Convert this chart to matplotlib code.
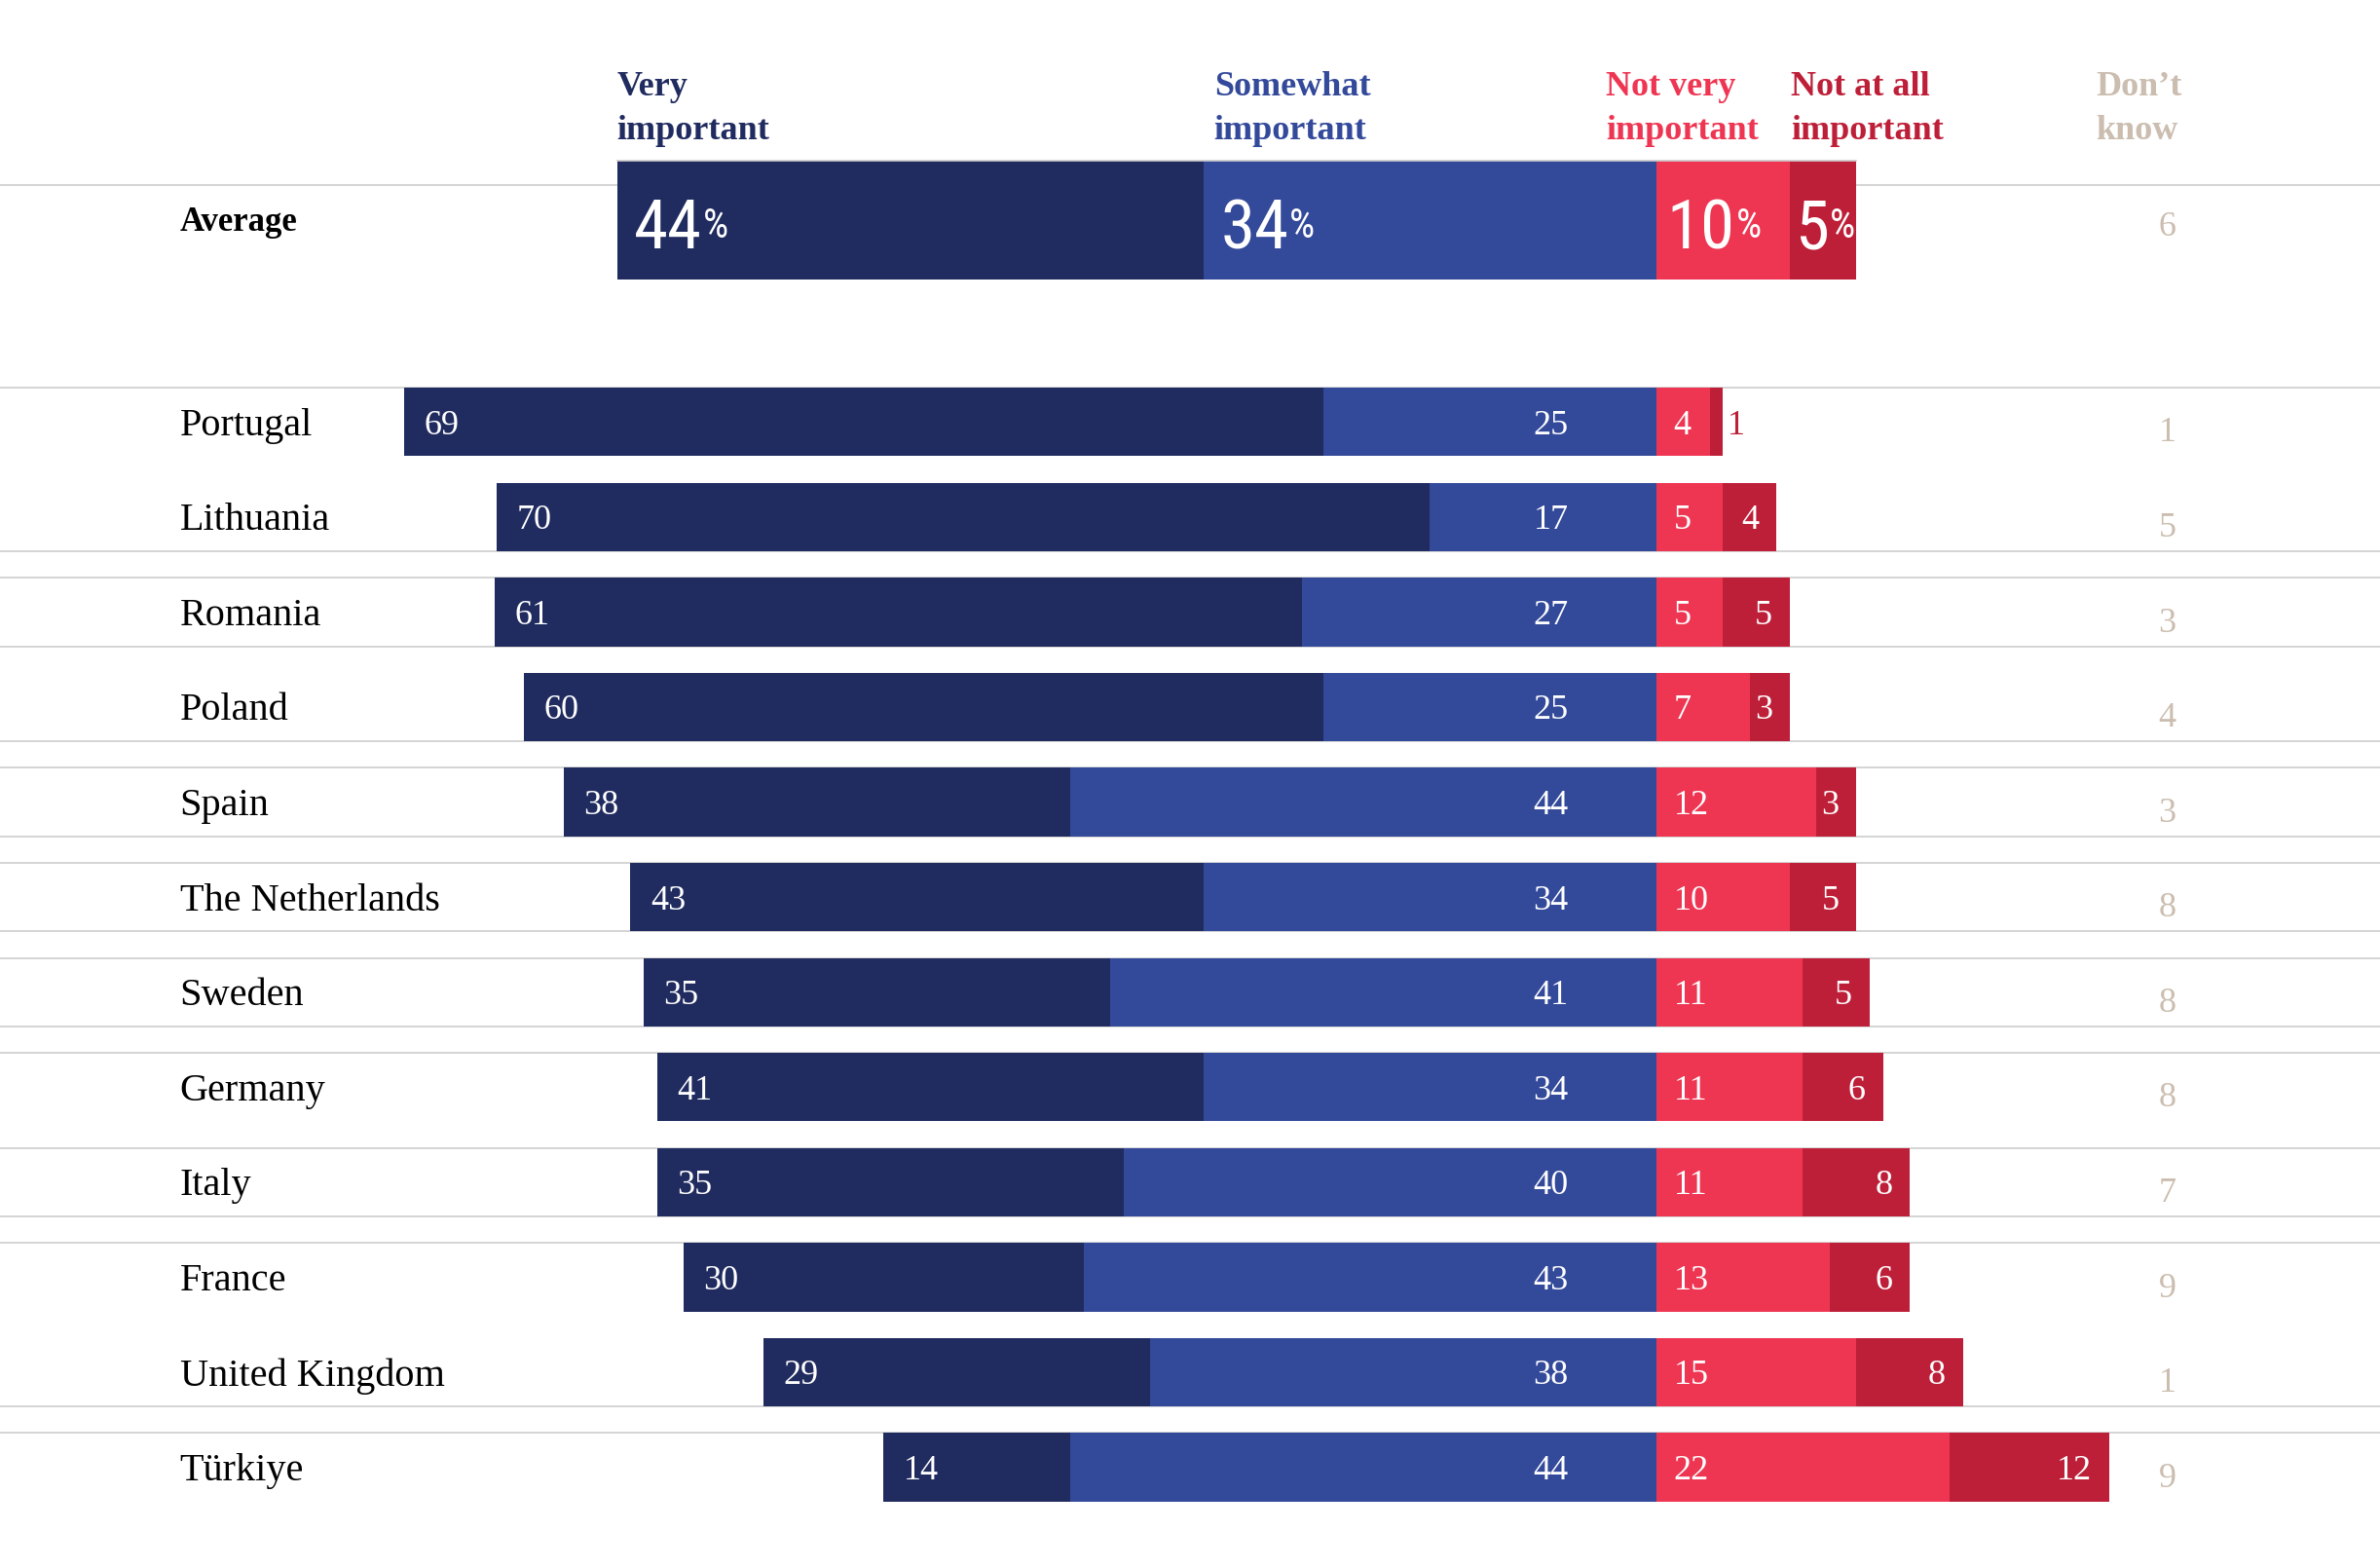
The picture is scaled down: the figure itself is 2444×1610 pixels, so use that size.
import numpy as np
import matplotlib.pyplot as plt

# Data
countries = ["Portugal", "Lithuania", "Romania", "Poland", "Spain", "The Netherlands",
             "Sweden", "Germany", "Italy", "France", "United Kingdom", "Türkiye"]
very = [69, 70, 60.55, 60, 38, 43, 35, 41, 35, 30, 29, 14]
somewhat = [25, 17, 26.6, 25, 44, 34, 41, 34, 40, 43, 38, 44]
not_very = [4, 5, 5, 7, 12, 10, 11, 11, 11, 13, 15, 22]
not_at_all = [1, 4, 5, 3, 3, 5, 5, 6, 8, 6, 8, 12]
dont_know = [1, 5, 3, 4, 3, 8, 8, 8, 7, 9, 1, 9]

avg_label = "Average"
avg_values = [44, 34, 10, 5]
avg_dont_know = 6

headers = ["Very\nimportant", "Somewhat\nimportant", "Not very\nimportant",
           "Not at all\nimportant", "Don’t\nknow"]

# Style
NAVY = "#202b5f"
BLUE = "#33499a"
PINK = "#ee3653"
RED = "#be1f38"
BEIGE = "#cbbdaf"
LINE = "#cdcdcd"
SERIF = "Liberation Serif"
NARROW = ["Roboto Condensed", "Liberation Sans Narrow", "Roboto"]

BAR_H = 0.72
AVG_Y = -2.125
AVG_H = 1.246
LABEL_X = -110.8
DK_X = 39.0
DY = 0.04  # text baseline nudge

# row separator lines: (row, -1 top edge / +1 bottom edge)
row_lines = [(0, -1), (1, 1), (2, -1), (2, 1), (3, 1), (4, -1), (4, 1), (5, -1), (5, 1),
             (6, -1), (6, 1), (7, -1), (8, -1), (8, 1), (9, -1), (10, 1), (11, -1)]

very = np.array(very)
somewhat = np.array(somewhat)
not_very = np.array(not_very)
not_at_all = np.array(not_at_all)
y = np.arange(len(countries))

fig = plt.figure(figsize=(24.44, 16.10), dpi=100)
ax = fig.add_axes([0, 0, 1, 1])
ax.set_xlim(-124.3, 54.3)
ax.set_ylim(12.06, -4.44)
ax.axis("off")

# separator lines
for r, edge in row_lines:
    ax.axhline(r + edge * BAR_H / 2, color=LINE, lw=1.2, zorder=0)
ax.axhline(-2.49, color=LINE, lw=1.2, zorder=0)

# country bars
ax.barh(y, very, left=-(very + somewhat), height=BAR_H, color=NAVY, zorder=2)
ax.barh(y, somewhat, left=-somewhat, height=BAR_H, color=BLUE, zorder=2)
ax.barh(y, not_very, left=0, height=BAR_H, color=PINK, zorder=2)
ax.barh(y, not_at_all, left=not_very, height=BAR_H, color=RED, zorder=2)

for i, name in enumerate(countries):
    ax.text(LABEL_X, i + DY, name, fontsize=29, family=SERIF, ha="left", va="center", color="black")
    ax.text(-(very[i] + somewhat[i]) + 1.5, i + DY, f"{round(very[i])}", fontsize=26, family=SERIF,
            color="white", ha="left", va="center", zorder=3)
    ax.text(-6.6, i + DY, f"{round(somewhat[i])}", fontsize=26, family=SERIF,
            color="white", ha="right", va="center", zorder=3)
    ax.text(1.3, i + DY, str(not_very[i]), fontsize=26, family=SERIF,
            color="white", ha="left", va="center", zorder=3)
    end = not_very[i] + not_at_all[i]
    if not_at_all[i] <= 1:
        ax.text(end + 0.3, i + DY, str(not_at_all[i]), fontsize=26, family=SERIF,
                color=RED, ha="left", va="center", zorder=3)
    else:
        ax.text(end - 1.3, i + DY, str(not_at_all[i]), fontsize=26, family=SERIF,
                color="white", ha="right", va="center", zorder=3)
    ax.text(DK_X, i + 0.12, str(dont_know[i]), fontsize=26, family=SERIF,
            color=BEIGE, ha="right", va="center")

# average bar
a_very, a_some, a_nv, a_naa = avg_values
avg_lefts = [-(a_very + a_some), -a_some, 0, a_nv]
avg_colors = [NAVY, BLUE, PINK, RED]
avg_pad = [1.3, 1.3, 0.8, 0.4]
for val, left, col, pad in zip(avg_values, avg_lefts, avg_colors, avg_pad):
    ax.barh(AVG_Y, val, left=left, height=AVG_H, color=col, zorder=2)
    t = ax.text(left + pad, AVG_Y + 0.1, str(val), fontsize=51, family=NARROW,
                fontstretch="condensed", color="white", ha="left", va="center", zorder=3)
    ax.annotate("%", xy=(1, 0.86), xycoords=t, xytext=(0.5, 0), textcoords="offset points",
                fontsize=30, family=NARROW, fontstretch="condensed", color="white",
                ha="left", va="top", zorder=3)
ax.plot([avg_lefts[0], a_nv + a_naa], [AVG_Y - AVG_H / 2] * 2, color=LINE, lw=1.2, zorder=3)

ax.text(LABEL_X, AVG_Y + 0.03, avg_label, fontsize=25, family=SERIF, weight="bold",
        ha="left", va="center", color="black")
ax.text(DK_X, AVG_Y + 0.08, str(avg_dont_know), fontsize=26, family=SERIF,
        color=BEIGE, ha="right", va="center")

# column headers
header_x = [avg_lefts[0], avg_lefts[1] + 0.8, -3.8, a_nv + 0.1, DK_X - 6.0]
header_colors = [NAVY, BLUE, PINK, RED, BEIGE]
for hx, txt, col in zip(header_x, headers, header_colors):
    ax.text(hx, -2.89, txt, fontsize=26, family=SERIF, weight="bold", color=col,
            ha="left", va="bottom", linespacing=1.5)

fig.savefig("out.png", dpi=100, facecolor="white")
